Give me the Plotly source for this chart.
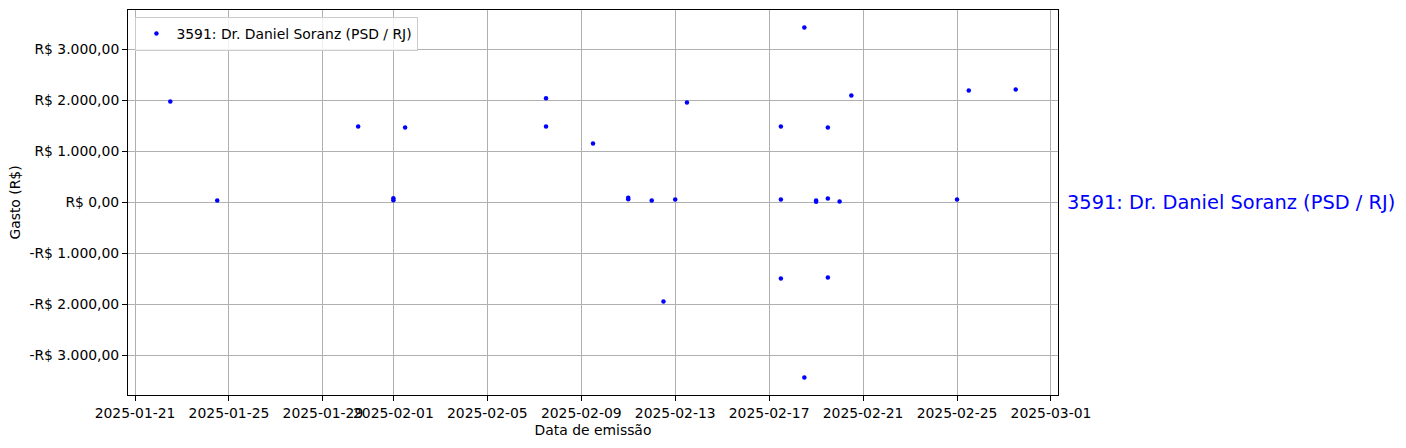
import plotly.graph_objects as go

# ---- data ----
series_name = "3591: Dr. Daniel Soranz (PSD / RJ)"
dates = [
    "2025-01-22 12:00", "2025-01-24 12:00", "2025-01-30 12:00", "2025-02-01 00:00",
    "2025-02-01 00:00", "2025-02-01 12:00", "2025-02-07 12:00", "2025-02-07 12:00",
    "2025-02-09 12:00", "2025-02-11 00:00", "2025-02-11 00:00", "2025-02-12 00:00",
    "2025-02-12 12:00", "2025-02-13 00:00", "2025-02-13 12:00", "2025-02-17 12:00",
    "2025-02-17 12:00", "2025-02-17 12:00", "2025-02-18 12:00", "2025-02-18 12:00",
    "2025-02-19 00:00", "2025-02-19 00:00", "2025-02-19 12:00", "2025-02-19 12:00",
    "2025-02-19 12:00", "2025-02-20 00:00", "2025-02-20 12:00", "2025-02-25 00:00",
    "2025-02-25 12:00", "2025-02-27 12:00",
]
values = [
    1980, 39, 1490, 85,
    45, 1470, 2045, 1490,
    1157, 95, 65, 39,
    -1941, 59, 1960, 1490,
    59, -1490, 3431, -3431,
    40, 15, 1470, 78,
    -1470, 20, 2098, 59,
    2196, 2216,
]

x_tick_vals = ["2025-01-21", "2025-01-25", "2025-01-29", "2025-02-01", "2025-02-05",
               "2025-02-09", "2025-02-13", "2025-02-17", "2025-02-21", "2025-02-25",
               "2025-03-01"]
x_tick_text = x_tick_vals
y_tick_vals = [-3000, -2000, -1000, 0, 1000, 2000, 3000]
y_tick_text = ["-R$ 3.000,00", "-R$ 2.000,00", "-R$ 1.000,00", "R$ 0,00",
               "R$ 1.000,00", "R$ 2.000,00", "R$ 3.000,00"]
x_title = "Data de emissão"
y_title = "Gasto (R$)"

FONT = "DejaVu Sans, Liberation Sans, sans-serif"
FS = 13.9

fig = go.Figure()
fig.add_trace(go.Scatter(
    x=dates, y=values, mode="markers", name=series_name,
    marker=dict(color="blue", size=4.5, line=dict(width=0)),
))

fig.update_layout(
    width=1406, height=448,
    margin=dict(l=128, r=348, t=10, b=53, autoexpand=False),
    paper_bgcolor="white", plot_bgcolor="white",
    font=dict(family=FONT, size=FS, color="black"),
    showlegend=True,
    legend=dict(
        x=0.008, y=0.982, xanchor="left", yanchor="top",
        bgcolor="rgba(255,255,255,0.8)", bordercolor="#cccccc", borderwidth=1,
        font=dict(family=FONT, size=FS, color="black"),
        itemsizing="trace",
    ),
    xaxis=dict(
        type="date",
        range=["2025-01-20 16:48", "2025-03-01 07:12"],
        tickvals=x_tick_vals, ticktext=x_tick_text, tickangle=0,
        tickfont=dict(family=FONT, size=FS),
        showgrid=True, gridcolor="#b0b0b0", gridwidth=1,
        showline=True, linecolor="black", linewidth=1, mirror=True,
        ticks="outside", ticklen=5, tickcolor="black",
        zeroline=False,
        title=dict(text=x_title, font=dict(family=FONT, size=FS), standoff=5),
    ),
    yaxis=dict(
        range=[-3774, 3774],
        tickvals=y_tick_vals, ticktext=y_tick_text,
        tickfont=dict(family=FONT, size=FS),
        showgrid=True, gridcolor="#b0b0b0", gridwidth=1,
        showline=True, linecolor="black", linewidth=1, mirror=True,
        ticks="outside", ticklen=5, tickcolor="black",
        zeroline=False,
        title=dict(text=y_title, font=dict(family=FONT, size=FS), standoff=5),
    ),
)

fig.add_annotation(
    xref="paper", yref="y", x=1.0, y=0,
    xanchor="left", yanchor="middle", xshift=7,
    text=series_name, showarrow=False,
    font=dict(family=FONT, size=19.4, color="blue"),
)

fig.write_html(
    "out.html",
    config={"displayModeBar": False},
    post_script="document.body.style.margin='0';document.body.style.overflow='hidden';",
)
